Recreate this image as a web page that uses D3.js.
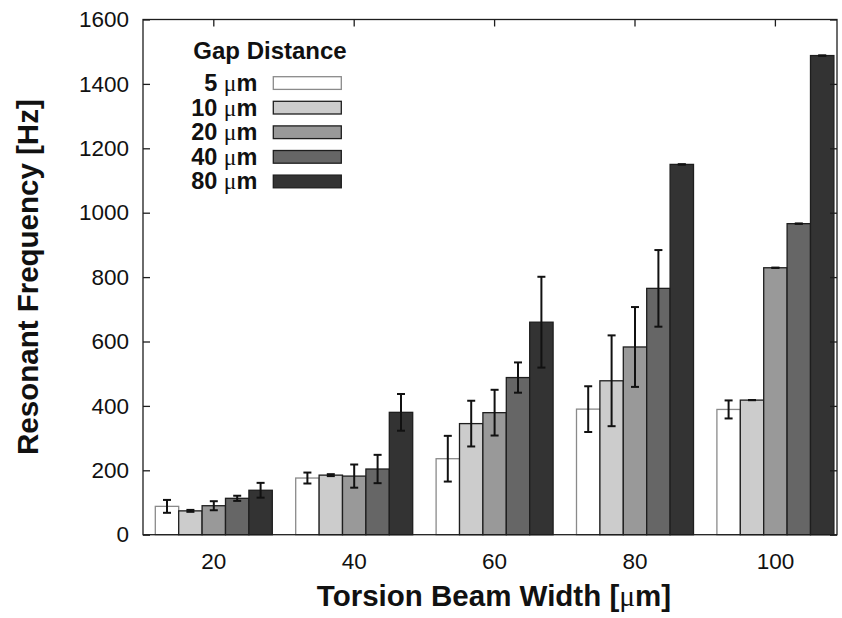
<!DOCTYPE html>
<html>
<head>
<meta charset="utf-8">
<script src="https://cdn.jsdelivr.net/npm/d3@7"></script>
<style>
  body { margin: 0; background: #fff; }
  text { font-family: "Liberation Sans", Arial, sans-serif; }
</style>
</head>
<body>
<div id="myChart"></div>
<script>
// Torsion beam widths (x categories) and gap distances (series)
let beamWidths = ["20", "40", "60", "80", "100"];
let gapLabels = ["5", "10", "20", "40", "80"];
let gapColors = ["#ffffff", "#cccccc", "#999999", "#666666", "#333333"];
let yTicks = [0, 200, 400, 600, 800, 1000, 1200, 1400, 1600];

// mean resonant frequency [Hz] per gap distance
let gap5 = [88, 176, 236, 390, 389];
let gap10 = [74, 185, 345, 478, 418];
let gap20 = [90, 182, 379, 583, 829];
let gap40 = [113, 204, 488, 765, 966];
let gap80 = [138, 380, 660, 1150, 1488];

// error (+/-) per gap distance
let err5 = [20, 17, 71, 71, 28];
let err10 = [3, 3, 71, 141, 0];
let err20 = [14, 36, 71, 124, 0];
let err40 = [8, 44, 47, 119, 0];
let err80 = [23, 57, 141, 0, 0];

let means = [gap5, gap10, gap20, gap40, gap80];
let errs = [err5, err10, err20, err40, err80];

let data = [];
beamWidths.forEach((w, i) => {
  gapLabels.forEach((g, j) => {
    data.push({ width: w, gap: g, value: means[j][i], err: errs[j][i], idx: j });
  });
});

let margin = { top: 19.5, right: 5, bottom: 83.3, left: 143 },
  width = 842 - margin.left - margin.right,
  height = 618 - margin.top - margin.bottom;

let svg = d3
  .select("#myChart")
  .append("svg")
  .attr("width", 842)
  .attr("height", 618)
  .append("g")
  .attr("transform", `translate(${margin.left}, ${margin.top})`);

// group scale: step 140.4px, bars fill 5/6 of each step
let x0 = d3
  .scaleBand()
  .domain(beamWidths)
  .range([12.3, 12.3 + 140.4 * (5 - 1 / 6)])
  .paddingInner(1 / 6)
  .paddingOuter(0);

let x1 = d3.scaleBand().domain(gapLabels).range([0, x0.bandwidth()]);

let y = d3.scaleLinear().domain([0, 1600]).range([height, 0]);

// Bars
svg
  .selectAll(".bar")
  .data(data)
  .enter()
  .append("rect")
  .attr("class", "bar")
  .attr("x", (d) => x0(d.width) + x1(d.gap))
  .attr("y", (d) => y(d.value))
  .attr("width", x1.bandwidth())
  .attr("height", (d) => y(0) - y(d.value))
  .attr("fill", (d) => gapColors[d.idx])
  .attr("stroke", (d) => (d.idx === 0 ? "#8a8a8a" : "#1e1e1e"))
  .attr("stroke-width", 1.3);

// Error bars
let errG = svg
  .selectAll(".err")
  .data(data)
  .enter()
  .append("g")
  .attr("class", "err")
  .attr("stroke", "#111")
  .attr("stroke-width", 2);

let cx = (d) => x0(d.width) + x1(d.gap) + x1.bandwidth() / 2;

errG
  .append("line")
  .attr("x1", cx)
  .attr("x2", cx)
  .attr("y1", (d) => y(d.value + d.err))
  .attr("y2", (d) => y(d.value - d.err));

[1, -1].forEach((s) => {
  errG
    .append("line")
    .attr("x1", (d) => cx(d) - 4)
    .attr("x2", (d) => cx(d) + 4)
    .attr("y1", (d) => y(d.value + s * d.err))
    .attr("y2", (d) => y(d.value + s * d.err));
});

// Frame
svg
  .append("rect")
  .attr("x", 0)
  .attr("y", 0)
  .attr("width", width)
  .attr("height", height)
  .attr("fill", "none")
  .attr("stroke", "#1e1e1e")
  .attr("stroke-width", 1.3);

// Y axis (ticks inward)
let yAxis = svg
  .append("g")
  .call(
    d3
      .axisLeft(y)
      .tickValues(yTicks)
      .tickFormat(d3.format("d"))
      .tickSizeInner(-7)
      .tickSizeOuter(0)
      .tickPadding(14)
  );
yAxis.select(".domain").remove();
yAxis.selectAll(".tick line").attr("stroke", "#1e1e1e").attr("stroke-width", 1.3);
yAxis
  .selectAll(".tick text")
  .style("font-family", "Liberation Sans, Arial, sans-serif")
  .style("font-size", "22.5px")
  .attr("fill", "#111");

// mirrored ticks on the right
let yRight = svg
  .append("g")
  .attr("transform", `translate(${width},0)`)
  .call(d3.axisRight(y).tickValues(yTicks).tickSizeInner(-7).tickSizeOuter(0).tickFormat(""));
yRight.select(".domain").remove();
yRight.selectAll(".tick line").attr("stroke", "#1e1e1e").attr("stroke-width", 1.3);

// X axis
let xAxis = svg
  .append("g")
  .attr("transform", `translate(0,${height})`)
  .call(d3.axisBottom(x0).tickSize(0).tickPadding(18));
xAxis.select(".domain").remove();
xAxis
  .selectAll(".tick text")
  .style("font-family", "Liberation Sans, Arial, sans-serif")
  .style("font-size", "22.5px")
  .attr("fill", "#111");

// mirrored ticks on the top
let xTop = svg
  .append("g")
  .call(d3.axisTop(x0).tickSizeInner(-7).tickSizeOuter(0).tickFormat(""));
xTop.select(".domain").remove();
xTop.selectAll(".tick line").attr("stroke", "#1e1e1e").attr("stroke-width", 1.3);

// Axis titles
svg
  .append("text")
  .attr("transform", "rotate(-90)")
  .attr("x", -height / 2)
  .attr("y", 37.5 - margin.left)
  .style("text-anchor", "middle")
  .style("font-size", "29.5px")
  .style("font-weight", "bold")
  .attr("fill", "#111")
  .text("Resonant Frequency [Hz]");

let xTitle = svg
  .append("text")
  .attr("x", width / 2 + 4)
  .attr("y", 605.7 - margin.top)
  .style("text-anchor", "middle")
  .style("font-size", "29.5px")
  .style("font-weight", "bold")
  .attr("fill", "#111");
xTitle.append("tspan").text("Torsion Beam Width [");
xTitle
  .append("tspan")
  .style("font-family", "Liberation Serif, serif")
  .style("font-weight", "normal")
  .text("μ");
xTitle.append("tspan").text("m]");

// Legend
let legend = svg.append("g").attr("transform", `translate(${270 - margin.left}, ${59 - margin.top})`);

legend
  .append("text")
  .attr("x", 0)
  .attr("y", 0)
  .style("text-anchor", "middle")
  .style("font-size", "24px")
  .style("font-weight", "bold")
  .attr("fill", "#111")
  .text("Gap Distance");

let items = legend
  .selectAll(".legend")
  .data(gapLabels)
  .enter()
  .append("g")
  .attr("class", "legend")
  .attr("transform", (d, i) => `translate(0, ${32 + i * 24.6})`);

let itemText = items
  .append("text")
  .attr("x", -12.7)
  .attr("y", 0)
  .style("text-anchor", "end")
  .style("font-size", "23.5px")
  .style("font-weight", "bold")
  .attr("fill", "#111");
itemText.append("tspan").text((d) => d + " ");
itemText
  .append("tspan")
  .style("font-family", "Liberation Serif, serif")
  .style("font-weight", "normal")
  .text("μ");
itemText.append("tspan").text("m");

items
  .append("rect")
  .attr("x", 3.3)
  .attr("y", -14.3)
  .attr("width", 68)
  .attr("height", 12.7)
  .attr("fill", (d, i) => gapColors[i])
  .attr("stroke", (d, i) => (i === 0 ? "#8a8a8a" : "#1e1e1e"))
  .attr("stroke-width", 1.3);
</script>
</body>
</html>
